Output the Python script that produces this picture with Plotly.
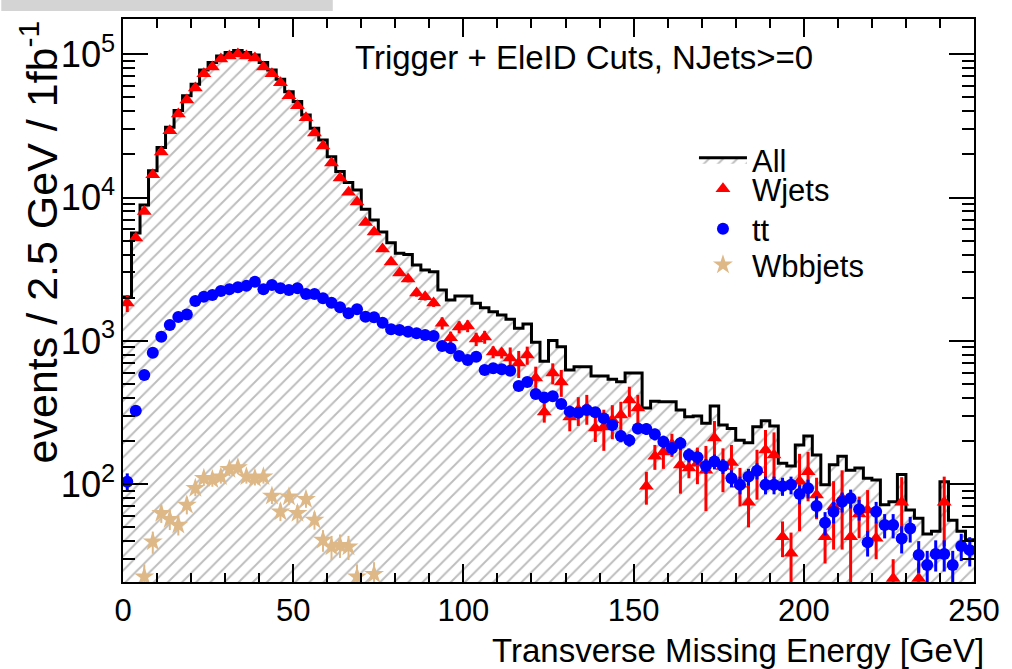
import plotly.graph_objects as go

# 100 bins of 2.5 GeV from 0 to 250 GeV
BIN_WIDTH = 2.5
N_BINS = 100

# Summed histogram ("All")
all_counts = [
    2024, 5660, 8880, 15400, 22300, 30950, 40400, 51200, 61800, 77700,
    87400, 97300, 102600, 106000, 102600, 98600, 87400, 77700, 66900, 54800,
    46700, 37700, 30450, 25230, 19290, 15170, 12710, 11300, 8290, 6980,
    5750, 4845, 4087, 4000, 3386, 3125, 3040, 2266, 1930, 2058,
    2058, 1830, 1700, 1600, 1517, 1415, 1224, 1312, 977, 722,
    1008, 911, 627, 660, 660, 570, 570, 540, 519, 597,
    597, 340, 380, 376, 376, 330, 296, 299, 266, 351,
    259, 245, 203, 195, 252, 277, 255, 140, 134, 188,
    217, 160, 99, 137, 157, 125, 130, 110, 107, 72,
    75.5, 117, 66, 58, 45, 47, 104, 56, 47, 41,
]

# W+jets
wjets = [
    1840, 5220, 8000, 14400, 20800, 29200, 38300, 48000, 58200, 72900,
    81500, 92700, 97300, 100500, 97300, 94200, 81500, 72900, 63100, 51200,
    43600, 36000, 28200, 22900, 17400, 13700, 10900, 9300, 6700, 5750,
    4380, 3550, 2980, 2700, 2160, 2030, 1840, 1330, 1050, 1250,
    1270, 1030, 1065, 836, 823, 760, 701, 797, 551, 319,
    597, 517, 294, 330, 340, 247, 251, 281, 304, 387,
    340, 97, 157, 168, 190, 136, 130, 140, 125, 210,
    133, 142, 100, 75, 126, 173, 160, 43, 33, 105,
    122, 84, 43, 70, 80, 43, 62, 66, 42, None,
    22, 75, None, 22, None, None, 75, None, None, None,
]
wjets_err = [
    250, 190, 240, 320, 380, 450, 520, 580, 640, 710,
    760, 800, 820, 840, 820, 810, 760, 710, 670, 600,
    550, 500, 450, 400, 350, 310, 280, 260, 220, 200,
    175, 160, 145, 140, 125, 120, 115, 130, 110, 120,
    120, 110, 110, 80, 70, 140, 150, 115, 110, 50,
    100, 110, 60, 75, 80, 50, 80, 75, 72, 92,
    80, 25, 31, 40, 35, 50, 20, 40, 60, 66,
    45, 46, 30, 25, 48, 66, 70, 12, 13, 58,
    46, 27, 15, 35, 45, 28, 20, 25, 12, 0,
    8, 37, 0, 6, 0, 0, 38, 0, 0, 0,
]

# ttbar
ttbar = [
    104, 326, 578, 827, 1070, 1290, 1470, 1530, 1900, 2035,
    2090, 2230, 2290, 2370, 2420, 2590, 2290, 2455, 2330, 2266,
    2330, 2125, 2125, 1983, 1848, 1716, 1558, 1662, 1475, 1461,
    1340, 1205, 1191, 1159, 1130, 1099, 1082, 921, 888, 785,
    736, 776, 626, 644, 634, 620, 484, 517, 426, 403,
    411, 363, 321, 315, 330, 318, 288, 259, 217, 203,
    245, 243, 223, 198, 178, 193, 160, 154, 134, 144,
    134, 110, 99, 113, 124, 99, 99, 97, 99, 85.5,
    93.6, 70.5, 53.9, 64.3, 75.5, 79.7, 66.8, 39.3, 64.3, 51.9,
    51.9, 41.9, 49.2, 32.1, 27.3, 32.6, 32.6, 27.3, 37.1, 34.7,
]
ttbar_err = [
    15, 25, 33, 40, 45, 50, 53, 55, 60, 62,
    63, 65, 66, 67, 68, 70, 66, 68, 67, 66,
    67, 64, 64, 62, 60, 58, 55, 57, 53, 53,
    51, 48, 48, 47, 47, 46, 46, 42, 41, 39,
    38, 39, 35, 35, 35, 35, 31, 32, 29, 28,
    28, 27, 25, 25, 25, 25, 24, 23, 21, 20,
    22, 22, 21, 20, 19, 20, 18, 17, 16, 17,
    16, 15, 14, 15, 16, 14, 14, 14, 14, 13,
    14, 12, 10, 11, 12, 12, 11, 8, 11, 10,
    10, 9, 10, 8, 7, 8, 8, 7, 8, 8,
]

# W+bb+jets (only the low-MET bins are populated)
wbb = [
    None, None, 22.6, 39.7, 62.7, 56.9, 51.9, 71.6, 93.6, 110,
    108, 113, 127, 131, 113, 110, 113, 82.8, 64.3, 81.8,
    62.7, 78.5, 56.2, 40.8, 36.6, 37.6, 36.6, 22.6, None, 23.6,
] + [None] * 70
wbb_err = [
    0, 0, 5, 7, 9, 9, 8, 10, 11, 12,
    12, 12, 13, 13, 12, 12, 12, 10, 9, 10,
    9, 10, 8, 7, 7, 7, 7, 5, 0, 5,
] + [0] * 70

x_ticks = [0, 50, 100, 150, 200, 250]

edges = [i * BIN_WIDTH for i in range(N_BINS + 1)]
centers = [(i + 0.5) * BIN_WIDTH for i in range(N_BINS)]

FONT = "Liberation Sans, Arial, Helvetica, sans-serif"

L, R, T, B = 123, 29, 19, 87
W, H = 1012, 669
PW, PH = W - L - R, H - T - B


def px_to_paper(px, py):
    return (px - L) / PW, (H - B - py) / PH


fig = go.Figure()

# Summed histogram drawn as a hatched step outline
fig.add_trace(go.Scatter(
    x=edges,
    y=all_counts + [all_counts[-1]],
    mode="lines",
    name="All",
    legend="legend",
    line=dict(shape="hv", color="black", width=3),
    fill="tozeroy",
    fillcolor="rgba(0,0,0,0)",
    fillpattern=dict(shape="/", fgcolor="#7c7c7c", bgcolor="white",
                     size=10, solidity=0.2),
))

fig.add_trace(go.Scatter(
    x=centers, y=wjets, mode="markers", name="Wjets", legend="legend2",
    marker=dict(symbol="triangle-up", size=13, color="#ff0000"),
    error_y=dict(type="data", array=wjets_err, color="#ff0000",
                 thickness=3, width=0),
))

fig.add_trace(go.Scatter(
    x=centers, y=ttbar, mode="markers", name="tt", legend="legend3",
    marker=dict(symbol="circle", size=12, color="#0000ff"),
    error_y=dict(type="data", array=ttbar_err, color="#0000ff",
                 thickness=3, width=0),
))

fig.add_trace(go.Scatter(
    x=centers, y=wbb, mode="markers", name="Wbbjets", legend="legend4",
    marker=dict(symbol="star", size=15, color="#deb887"),
    error_y=dict(type="data", array=wbb_err, color="#deb887",
                 thickness=2, width=0),
))


def legend_box(py):
    lx, ly = px_to_paper(700, py)
    return dict(
        x=lx, y=ly, xanchor="left", yanchor="middle",
        bgcolor="rgba(0,0,0,0)", borderwidth=0, itemwidth=48,
        font=dict(family=FONT, size=31, color="black"),
    )


fig.update_layout(
    width=W, height=H,
    margin=dict(l=L, r=R, t=T, b=B),
    paper_bgcolor="white", plot_bgcolor="white",
    font=dict(family=FONT, size=30, color="black"),
    showlegend=True,
    legend=legend_box(160),
    legend2=legend_box(189),
    legend3=legend_box(229),
    legend4=legend_box(265),
    xaxis=dict(
        range=[0, 250], tickvals=x_ticks, ticktext=[str(v) for v in x_ticks],
        ticks="inside", ticklen=18, tickwidth=1.5, tickcolor="black",
        minor=dict(dtick=10, tick0=0, ticks="inside", ticklen=9,
                   tickwidth=1.5, tickcolor="black"),
        showline=True, linecolor="black", linewidth=2, mirror="ticks",
        showgrid=False, zeroline=False,
        tickfont=dict(family=FONT, size=31),
    ),
    yaxis=dict(
        type="log", range=[1.318, 5.2455], dtick=1,
        exponentformat="power", showexponent="all",
        ticks="inside", ticklen=25, tickwidth=1.5, tickcolor="black",
        minor=dict(dtick="D1", ticks="inside", ticklen=12,
                   tickwidth=1.5, tickcolor="black"),
        showline=True, linecolor="black", linewidth=2, mirror="ticks",
        showgrid=False, zeroline=False,
        tickfont=dict(family=FONT, size=29),
    ),
)

tx, ty = px_to_paper(589, 58)
yx, yy = px_to_paper(38, 18)
xx, xy = px_to_paper(983, 650)
fig.update_layout(annotations=[
    dict(text="Trigger + EleID Cuts, NJets>=0", x=tx, y=ty,
         xref="paper", yref="paper", xanchor="center", yanchor="middle",
         showarrow=False, font=dict(family=FONT, size=33)),
    dict(text="events / 2.5 GeV / 1fb<sup>-1</sup>", x=yx, y=yy,
         xref="paper", yref="paper", xanchor="center", yanchor="top",
         textangle=-90, showarrow=False, font=dict(family=FONT, size=43)),
    dict(text="Transverse Missing Energy [GeV]", x=xx, y=xy,
         xref="paper", yref="paper", xanchor="right", yanchor="middle",
         xshift=12, showarrow=False, font=dict(family=FONT, size=33)),
])

# Light grey strip along the top-left edge of the canvas
x0, y0 = px_to_paper(0, 0)
x1, y1 = px_to_paper(335, 11)
fig.add_shape(type="rect", xref="paper", yref="paper",
              x0=x0, y0=y1, x1=x1, y1=y0,
              fillcolor="#d4d4d4", line=dict(width=0), layer="above")

fig.write_html("out.html")
